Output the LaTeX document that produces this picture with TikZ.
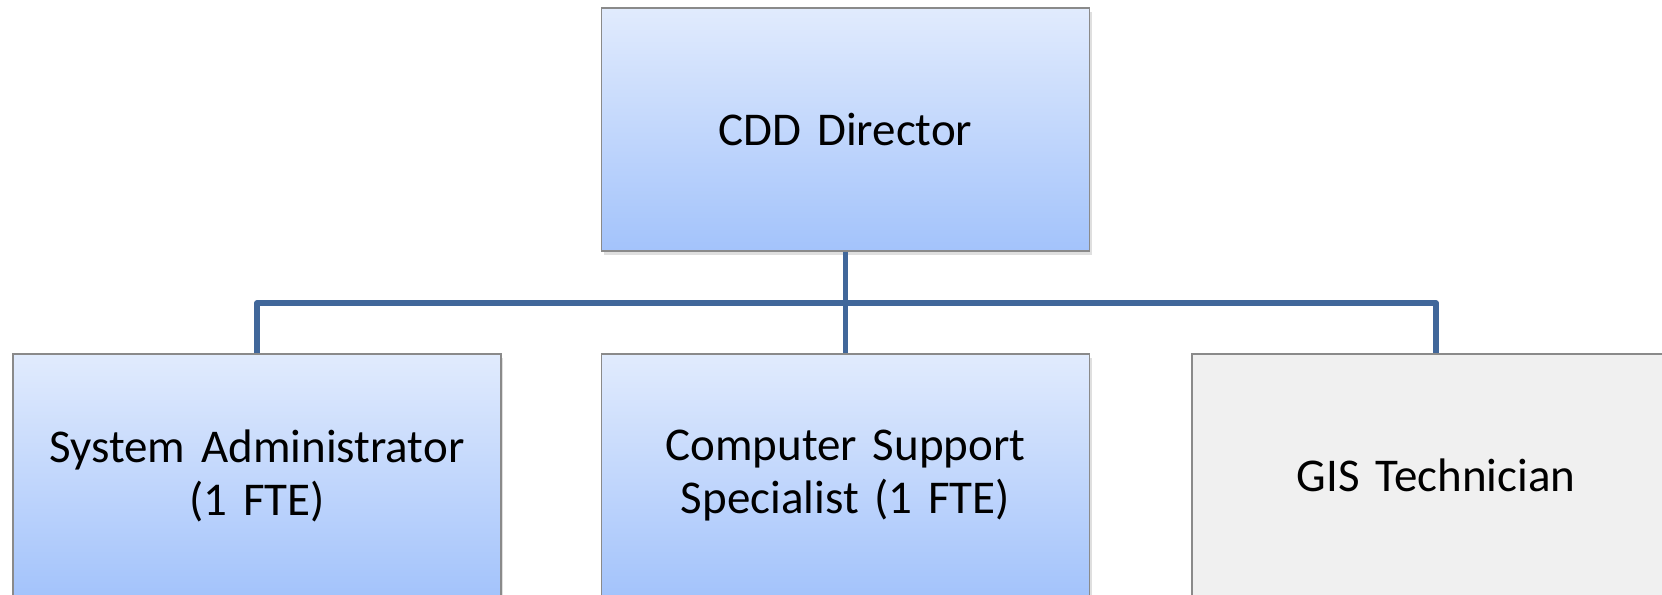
\documentclass[tikz,border=0pt]{standalone}
\usepackage{fontspec}
\setmainfont{Carlito}
\usetikzlibrary{shadows}
\definecolor{conncol}{HTML}{41679A}
\definecolor{boxtop}{HTML}{E1EBFD}
\definecolor{boxbot}{HTML}{A3C3FB}
\definecolor{boxline}{HTML}{8A8A8A}
\definecolor{grayfill}{HTML}{F0F0F0}
\tikzset{
  orgbox/.style={draw=boxline, line width=0.7pt, minimum width=244pt, minimum height=121.5pt,
    inner sep=0pt, align=center, text width=236pt,
    font=\fontsize{23.5}{26.5}\selectfont,
    drop shadow={opacity=0.25, shadow xshift=1.2pt, shadow yshift=-1.8pt}},
  bluebox/.style={orgbox, top color=boxtop, bottom color=boxbot},
  graybox/.style={orgbox, fill=grayfill},
  conn/.style={draw=conncol, line width=2.8pt, line join=round}
}
\begin{document}
\begin{tikzpicture}[x=0.5pt,y=-0.5pt]
\useasboundingbox (0,0) rectangle (1662,595);
\clip (0,0) rectangle (1662,595);
\fill[white] (0,0) rectangle (1662,595);
\node[bluebox] (top) at (845.5,129.5) {CDD Director};
\node[bluebox] (a) at (257,475.5) {System Administrator\\(1 FTE)};
\node[bluebox] (b) at (845.5,475.5) {Computer Support\\Specialist (1 FTE)};
\node[graybox] (c) at (1436,475.5) {GIS Technician};
\coordinate (bus) at (845.5,303);
\draw[conn] (top.south) -- (bus);
\draw[conn] (a.north) -- (a.north |- bus) -- (c.north |- bus) -- (c.north);
\draw[conn] (bus) -- (b.north);
\end{tikzpicture}
\end{document}
